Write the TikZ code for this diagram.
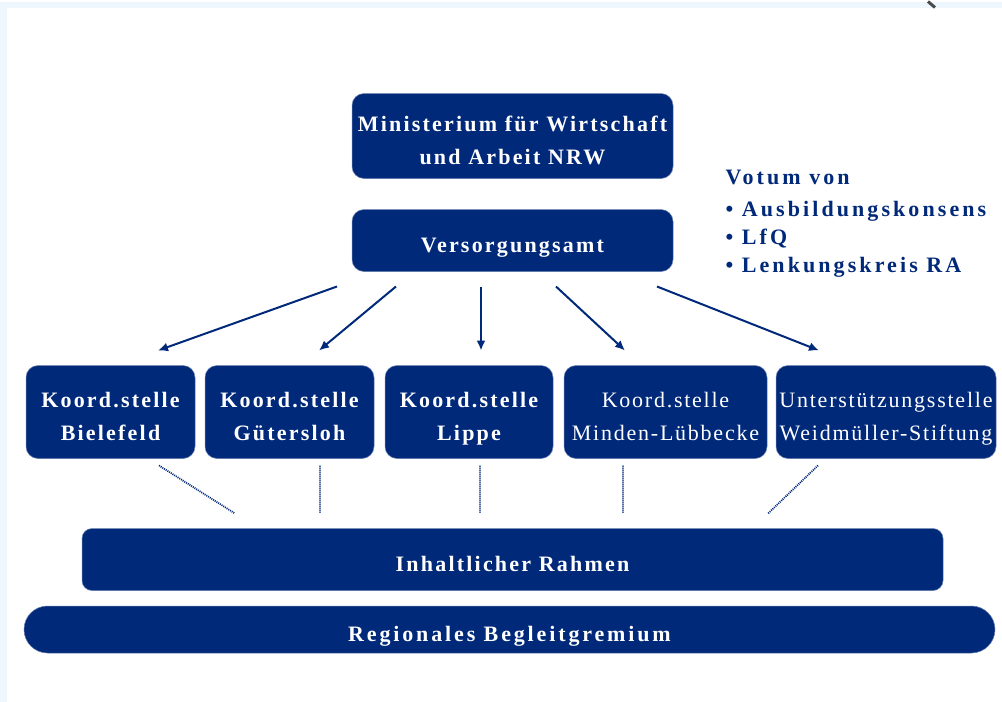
\documentclass[tikz,border=0pt]{standalone}
\usepackage{fontspec}
\setmainfont{Liberation Serif}
\newfontfamily\boxfont[LetterSpace=10]{Liberation Serif}
\newfontfamily\plainfont[LetterSpace=8]{Liberation Serif}
\newfontfamily\votumfont[LetterSpace=14]{Liberation Serif}
\newfontfamily\gremfont[LetterSpace=13]{Liberation Serif}
\usetikzlibrary{arrows.meta}
\usetikzlibrary{positioning}
\definecolor{navy}{RGB}{0,41,122}
\definecolor{paleblue}{RGB}{238,246,254}
\newcommand\boxstrut{\rule[-5pt]{0pt}{33pt}}

\begin{document}
\begin{tikzpicture}[x=1pt,y=-1pt,>={Latex[length=10pt,width=9pt]},semithick]
	\tikzstyle{box}=[fill=navy,draw=navy!60!white,line width=0.5pt,rounded corners=12pt,
		text=white,align=center,inner sep=0pt,font=\boxfont\bfseries\fontsize{22}{33}\selectfont]
	\tikzstyle{koord}=[box,minimum height=93pt]
	\tikzstyle{plain}=[font=\plainfont\fontsize{22}{33}\selectfont]
	\tikzstyle{arrow}=[->,navy,line width=2pt]
	\tikzstyle{link}=[navy,line width=1.8pt,dash pattern=on 1pt off 1pt]
	
	% frame
	\fill[paleblue] (0,0) rectangle (1002,700);
	\fill[white] (7,6) rectangle (1002,700);
	\draw[black!70,line width=3pt] (928,0) -- (935,6);
	
	\node[box,minimum width=321pt,minimum height=85pt] (Ministerium) at (512.5,134.5)
		{Ministerium für Wirtschaft\boxstrut\\und Arbeit NRW\boxstrut};
	\node[box,minimum width=321pt,minimum height=62pt] (Versorgung) at (512.5,239)
		{Versorgungsamt\boxstrut};
	
	\node[anchor=west,align=left,text=navy,font=\votumfont\bfseries\fontsize{22}{28}\selectfont]
		(Votum) at (722,222) {Votum von\\[4pt]• Ausbildungskonsens\\• LfQ\\• Lenkungskreis RA};
	
	\node[koord,minimum width=169pt] (Bielefeld) at (110.5,410.5)
		{Koord.stelle\boxstrut\\Bielefeld\boxstrut};
	\node[koord,minimum width=169pt] (Guetersloh) at (289.5,410.5)
		{Koord.stelle\boxstrut\\Gütersloh\boxstrut};
	\node[koord,minimum width=168pt] (Lippe) at (469,410.5)
		{Koord.stelle\boxstrut\\Lippe\boxstrut};
	\node[koord,plain,minimum width=203pt] (Minden) at (665.5,410.5)
		{Koord.stelle\boxstrut\\Minden-Lübbecke\boxstrut};
	\node[koord,plain,minimum width=220pt] (Weidmueller) at (886,410.5)
		{Unterstützungsstelle\boxstrut\\Weidmüller-Stiftung\boxstrut};
	
	\node[box,minimum width=861pt,minimum height=62pt,rounded corners=10pt] (Rahmen) at (512.5,558)
		{Inhaltlicher Rahmen\boxstrut};
	\node[box,minimum width=971pt,minimum height=47pt,rounded corners=23.5pt,
		font=\gremfont\bfseries\fontsize{22}{33}\selectfont] (Gremium) at (509.5,628)
		{Regionales Begleitgremium\boxstrut};
	
	% arrow ends
	\coordinate (v1) at (337,285); \coordinate (k1) at (158,349);
	\coordinate (v2) at (396,285); \coordinate (k2) at (319,349);
	\coordinate (v3) at (481,285); \coordinate (k3) at (481,349);
	\coordinate (v4) at (556,285); \coordinate (k4) at (625,349);
	\coordinate (v5) at (657,285); \coordinate (k5) at (819,349);
	
	\path[arrow] (v1) edge (k1)
		(v2) edge (k2)
		(v3) edge (k3)
		(v4) edge (k4)
		(v5) edge (k5);
	
	% dotted links to the frame
	\coordinate (b1) at (159,464); \coordinate (r1) at (235,512);
	\coordinate (b2) at (320,464); \coordinate (r2) at (320,511);
	\coordinate (b3) at (480,464); \coordinate (r3) at (480,511);
	\coordinate (b4) at (623,464); \coordinate (r4) at (623,511);
	\coordinate (b5) at (818,464); \coordinate (r5) at (768,512);
	
	\draw[link] (b1) -- (r1) (b2) -- (r2) (b3) -- (r3) (b4) -- (r4) (b5) -- (r5);
\end{tikzpicture}
\end{document}
